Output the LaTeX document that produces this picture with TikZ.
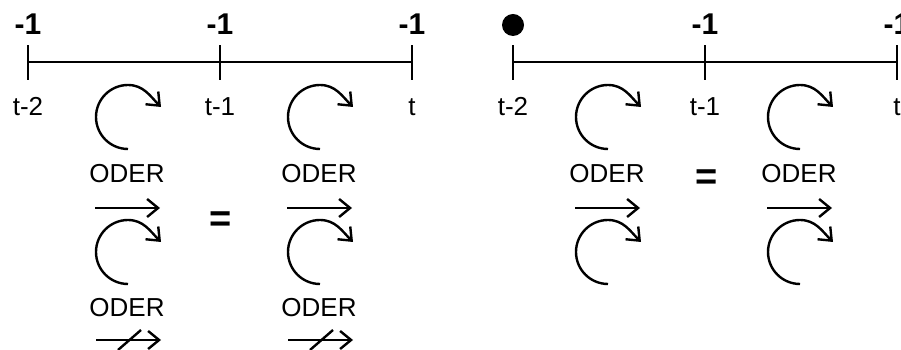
\documentclass[tikz,border=0pt]{standalone}
\usepackage{fontspec}
\setmainfont{Liberation Sans}
\usetikzlibrary{arrows.meta}

% Kreispfeil: Mittelpunkt (#1,#2), Radius 32
\newcommand{\kreis}[2]{%
	\draw[pfeil] (#1, #2-32) arc[start angle=270, end angle=90, radius=32]
		to[out=0, in=135] ++(33,-22);}

\begin{document}
\begin{tikzpicture}[x=1pt, y=1pt,
	linie/.style={line width=2.4pt},
	pfeil/.style={line width=2.4pt, -{Straight Barb[length=11pt, width=18pt, line width=2.4pt]}},
	wert/.style={anchor=base, font=\fontsize{30}{32}\selectfont\bfseries},
	zeit/.style={anchor=base, font=\fontsize{26}{28}\selectfont},
	oder/.style={anchor=base, font=\fontsize{26}{28}\selectfont},
	gleich/.style={font=\fontsize{38}{40}\selectfont\bfseries}]
	\useasboundingbox (0,0) rectangle (901,350);
	\clip (0,0) rectangle (901,350);
	% Zeitachsen
	\foreach \ox in {28, 513} {
		\draw[linie] (\ox,288) -- (\ox+384,288);
		\foreach \k in {0,1,2}
			\draw[linie] (\ox+192*\k,270) -- (\ox+192*\k,305);
		\node[zeit] (tz\ox) at (\ox,234) {t-2};
		\node[zeit] (te\ox) at (\ox+192,234) {t-1};
		\node[zeit] (tt\ox) at (\ox+384,234) {t};
	}
	% Werte oben
	\node[wert] (wa) at (28,315) {-1};
	\node[wert] (wb) at (220,315) {-1};
	\node[wert] (wc) at (412,315) {-1};
	\fill (513,325) circle (11);
	\node[wert] (wd) at (705,315) {-1};
	\node[wert] (we) at (897,315) {-1};
	% Pfeile unter den Intervallen
	\foreach \c in {128, 320, 608, 800} {
		\kreis{\c}{233}
		\node[oder] (oa\c) at (\c-1,167) {ODER};
		\draw[pfeil] (\c-33,142) -- (\c+32,142);
		\kreis{\c}{98}
	}
	% nur links: durchgestrichener Pfeil
	\foreach \c in {128, 320} {
		\node[oder] (ob\c) at (\c-1,33) {ODER};
		\draw[pfeil] (\c-32,10) -- (\c+33,10);
		\draw[linie] (\c-10,0) -- (\c+13,20);
	}
	% Gleichheitszeichen
	\node[gleich] (gl) at (221,128) {=};
	\node[gleich] (gr) at (707,170) {=};
\end{tikzpicture}
\end{document}
